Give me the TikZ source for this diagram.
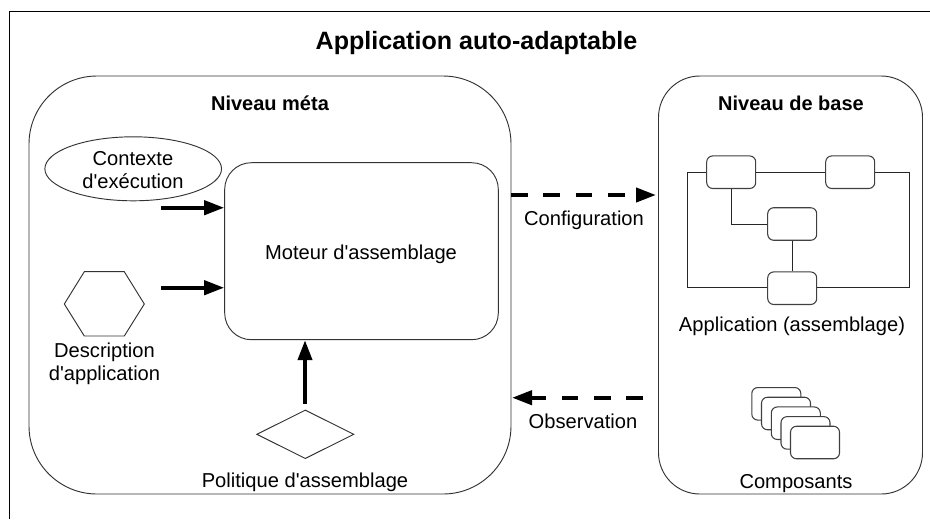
\documentclass[tikz,border=0pt]{standalone}
\usepackage{fontspec}
\setmainfont{Liberation Sans}[Ligatures=TeXOff]
\usetikzlibrary{arrows.meta,shapes.geometric}
\tikzset{
  px/.style={x=0.75pt,y=-0.75pt},
  thin line/.style={draw=black!85,line width=0.75pt},
  comp/.style={draw=black!75,fill=white,line width=0.8pt,rounded corners=4.5pt,minimum width=36.75pt,minimum height=24.4pt,inner sep=0pt},
  bigbox/.style={draw=black!80,fill=white,line width=0.7pt,inner sep=0pt},
  lab/.style={font=\fontsize{15.1pt}{17.25pt}\selectfont,align=center,inner sep=0pt},
  blab/.style={font=\fontsize{15pt}{17.25pt}\selectfont\bfseries,align=center,inner sep=0pt},
  strong/.style={line width=3pt,-{Triangle[length=15pt,width=10.5pt]}},
  dash strong/.style={strong,dash pattern=on 12.5pt off 11.75pt},
}
\begin{document}
\begin{tikzpicture}[px]
\useasboundingbox (0,0) rectangle (930,519);
\fill[white] (0,0) rectangle (930,519);
\coordinate (ftr) at (930,11.5);
\coordinate (ftl) at (9.5,11.5);
\coordinate (fbl) at (9.5,519);
\draw[line width=0.75pt] (fbl) -- (ftl) -- (ftr);
\node[font=\fontsize{18.8pt}{22pt}\selectfont\bfseries,inner sep=0pt] (title) at (476.5,43.5) {Application auto-adaptable};
\node[bigbox,rounded corners=51pt,minimum width=361.5pt,minimum height=313.5pt] (meta) at (270,285) {};
\node[bigbox,rounded corners=31pt,minimum width=198pt,minimum height=313.5pt] (base) at (790.5,285) {};
\node[blab] (tmeta) at (270,103) {Niveau méta};
\node[blab] (tbase) at (791,103) {Niveau de base};
\node[bigbox,rounded corners=20pt,minimum width=205.2pt,minimum height=132.75pt] (mot) at (361.5,251.2) {};
\node[lab] (tmot) at (361,254) {Moteur d'assemblage};
\node[bigbox,ellipse,minimum width=132.5pt,minimum height=48pt] (ctx) at (133.2,168.8) {};
\node[lab] (tctx) at (133,170) {Contexte\\d'exécution};
\draw[draw=black!80,line width=0.7pt] (64.3,304) -- (84.3,271.7) -- (124.3,271.7) -- (144.3,304) -- (124.3,336) -- (84.3,336) -- cycle;
\node[lab] (thex) at (104.5,364) {Description\\d'application};
\node[bigbox,diamond,minimum width=73pt,minimum height=36.5pt] (dia) at (305.3,434.3) {};
\node[lab] (tdia) at (305,482) {Politique d'assemblage};
\coordinate (a1) at (161,207.7); \coordinate (a2) at (161,287.7); \coordinate (a3) at (305,404);
\draw[strong] (a1) -- (mot.west |- a1);
\draw[strong] (a2) -- (mot.west |- a2);
\draw[strong] (a3) -- (mot.south -| a3);
\coordinate (c1) at (511,195); \coordinate (c2) at (656,195);
\coordinate (o1) at (643,397.7); \coordinate (o2) at (512,397.7);
\draw[dash strong] (c1) -- (c2);
\draw[dash strong] (o1) -- (o2);
\node[lab] (tc) at (584,220) {Configuration};
\node[lab] (to) at (583,421) {Observation};
\node[lab] (tapp) at (792,326) {Application (assemblage)};
\node[lab] (tcomp) at (796,483.5) {Composants};
\coordinate (l1) at (687.7,172.3); \coordinate (l2) at (909.3,172.3);
\coordinate (l3) at (909.3,287.7); \coordinate (l4) at (687.7,287.7);
\draw[thin line] (l1) -- (l2) -- (l3) -- (l4) -- cycle;
\node[comp] (c1b) at (731.2,172.2) {};
\node[comp] (c2b) at (850.2,172.2) {};
\node[comp] (c3b) at (792.2,224) {};
\node[comp] (c4b) at (792.2,288.2) {};
\draw[thin line] (c1b.south) |- (c3b.west);
\draw[thin line] (c3b.south) -- (c4b.north);
\node[comp] (s1) at (776.3,403.8) {};
\node[comp] (s2) at (786,413.5) {};
\node[comp] (s3) at (795.8,423.2) {};
\node[comp] (s4) at (805.5,432.9) {};
\node[comp] (s5) at (815,442.5) {};
\end{tikzpicture}
\end{document}
